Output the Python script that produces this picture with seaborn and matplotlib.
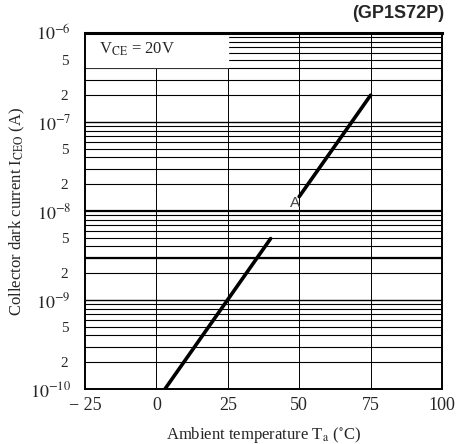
import numpy as np
import pandas as pd
import matplotlib.pyplot as plt
import matplotlib.ticker as mticker
import seaborn as sns

# --- Datos (curva con un corte cerca de 1e-8) ---
temp_low = [3, 40]
icEO_low = [1.0e-10, 4.9e-9]
temp_high = [50, 75]
icEO_high = [1.45e-8, 2.0e-7]

x_ticks = [-25, 0, 25, 50, 75, 100]
y_major = [1e-10, 1e-9, 1e-8, 1e-7, 1e-6]
y_major_labels = [r"$10^{-10}$", r"$10^{-9}$", r"$10^{-8}$", r"$10^{-7}$", r"$10^{-6}$"]

df = pd.DataFrame({
    "temp": temp_low + temp_high,
    "icEO": icEO_low + icEO_high,
    "seg": ["low"] * len(temp_low) + ["high"] * len(temp_high),
})

sns.set_theme(style="white")
plt.rcParams["font.family"] = ["Liberation Serif", "DejaVu Serif"]
plt.rcParams["mathtext.fontset"] = "stix"

fig = plt.figure(figsize=(4.57, 4.44), dpi=100)
ax = fig.add_axes([85 / 457, 55 / 444, 357 / 457, 356 / 444])

ax.set_yscale("log")
ax.set_xlim(-25, 100)
ax.set_ylim(1e-10, 1e-6)

# rejilla: horizontales en cada subdivisión logarítmica, verticales cada 25
for dec in y_major[:-1]:
    for m in range(2, 10):
        ax.axhline(dec * m, color="black", lw=0.8, zorder=1)
for i, v in enumerate(y_major):
    ax.axhline(v, color="black", lw=1.6 if i == 2 else 1.0, zorder=1)
ax.axhline(3e-9, color="black", lw=1.6, zorder=1)
for xv in x_ticks[1:-1]:
    ax.axvline(xv, color="black", lw=0.7, zorder=1)

# caja blanca del texto de condición
ax.fill_between([-25, 25], 4.1e-7, 1e-6, color="white", zorder=2)
ax.text(-20, 6.6e-7, r"V$_{\rm CE}$ = 20V", fontsize=12, va="center",
        ha="left", zorder=3)

sns.lineplot(data=df, x="temp", y="icEO", units="seg", estimator=None,
             color="black", lw=2.6, ax=ax, zorder=4, legend=False)

ax.text(48.5, 1.03e-8, "A", fontsize=11, color="#444444", ha="center",
        va="bottom", family=["Liberation Sans"], zorder=5)

ax.set_xticks(x_ticks)
ax.set_xticklabels(["\u2212 25", "0", "25", "50", "75", "100"], fontsize=13)
ax.yaxis.set_major_locator(mticker.FixedLocator(y_major))
ax.yaxis.set_major_formatter(mticker.FixedFormatter(y_major_labels))
minor_pos = [d * m for d in y_major[:-1] for m in (2, 5)]
ax.yaxis.set_minor_locator(mticker.FixedLocator(minor_pos))
ax.yaxis.set_minor_formatter(mticker.FixedFormatter(
    [str(m) for d in y_major[:-1] for m in (2, 5)]))
ax.tick_params(axis="y", which="major", labelsize=13, length=0, pad=10)
ax.tick_params(axis="y", which="minor", labelsize=11, length=0, pad=12)
ax.tick_params(axis="x", length=0, pad=6)

for s in ax.spines.values():
    s.set_color("black")
    s.set_linewidth(1.4)
ax.spines["top"].set_linewidth(2.2)

ax.set_xlabel(r"Ambient temperature T$_{\rm a}$ ($\rm ^{\circ}$C)", fontsize=12,
              labelpad=8)
ax.set_ylabel(r"Collector dark current I$_{\rm CEO}$ (A)", fontsize=12,
              labelpad=2)

fig.text(444 / 457, 1 - 14 / 444, "(GP1S72P)", fontsize=13, fontweight="bold",
         family=["Liberation Sans"], ha="right", va="center")

plt.savefig("out.png", dpi=100)
plt.close()
